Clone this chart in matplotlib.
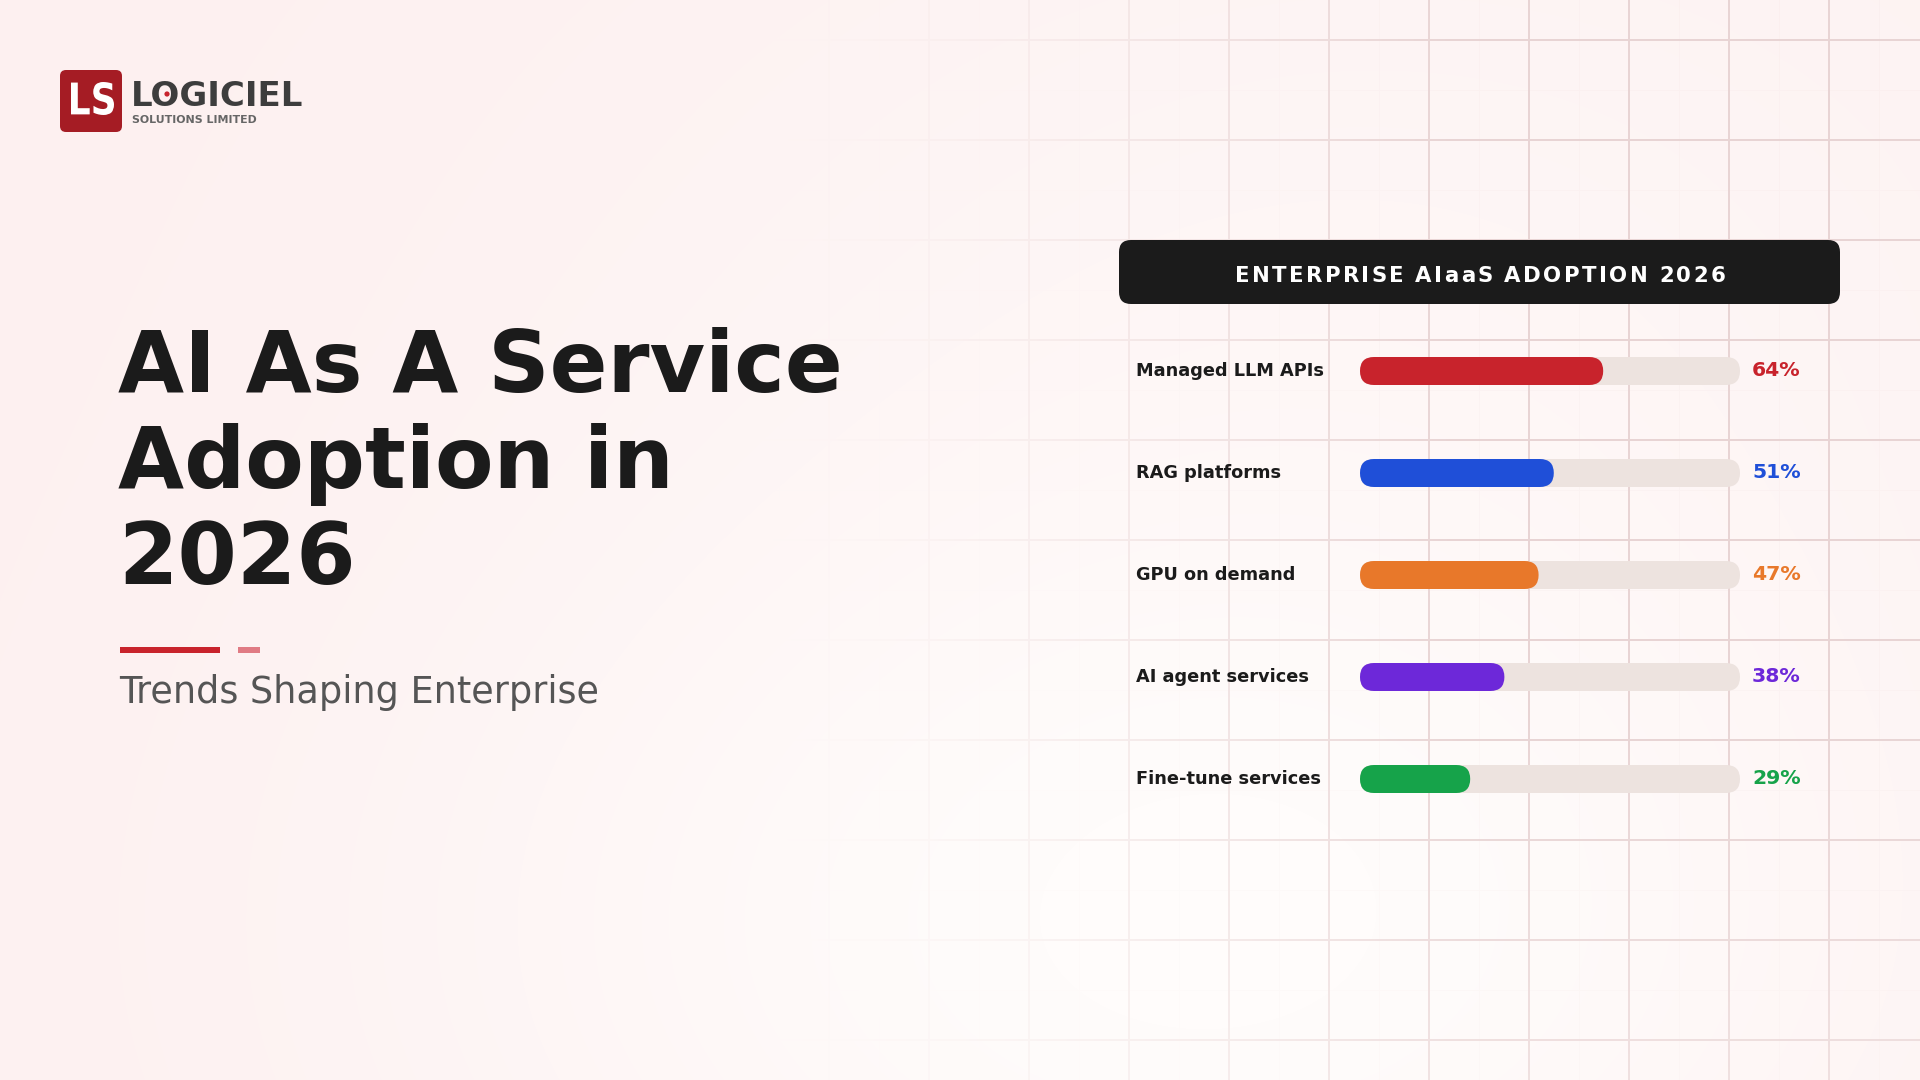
import numpy as np
import matplotlib
matplotlib.use("Agg")
import matplotlib.pyplot as plt
from matplotlib.patches import FancyBboxPatch, Circle, PathPatch
from matplotlib.textpath import TextPath
from matplotlib.font_manager import FontProperties
from matplotlib.transforms import Affine2D

# data
categories = ["Managed LLM APIs", "RAG platforms", "GPU on demand",
              "AI agent services", "Fine-tune services"]
values = [64, 51, 47, 38, 29]
colors = ["#c8232c", "#1f4fd8", "#e8782a", "#6d28d9", "#16a34a"]
value_labels = [f"{v}%" for v in values]

title_lines = ["AI As A Service", "Adoption in", "2026"]
subtitle = "Trends Shaping Enterprise"
panel_title = "ENTERPRISE AIaaS ADOPTION 2026"

W, H = 1920, 1080
fig = plt.figure(figsize=(19.2, 10.8), dpi=100)

# background
yy, xx = np.mgrid[0:H, 0:W]
base = np.array([253, 240, 240]) / 255.0
light = np.array([255, 252, 251]) / 255.0
glow = np.exp(-(((xx - 1200) / 800.0) ** 2 + ((yy - 950) / 500.0) ** 2))
glow2 = np.exp(-(((xx - 1400) / 900.0) ** 2 + ((yy - 200) / 500.0) ** 2)) * 0.4
w = np.clip(glow + glow2, 0, 1)[..., None]
bg = base * (1 - w) + light * w

# grid overlay with fading mask
grid_a = np.zeros((H, W))
for x in range(29, W, 100):
    grid_a[:, x - 1:x + 1] = 1.0
for y in range(40, H, 100):
    grid_a[y - 1:y + 1, :] = 1.0
for x in range(79, W, 100):
    grid_a[:, x] = np.maximum(grid_a[:, x], 0.12)
for y in range(90, H, 100):
    grid_a[y, :] = np.maximum(grid_a[y, :], 0.12)
mask = np.clip((xx - 760) / 700.0, 0, 1) ** 1.4
mask = mask * (1 - 0.35 * np.clip((yy - 700) / 380.0, 0, 1))
line_col = np.array([232, 212, 212]) / 255.0
a = (grid_a * mask)[..., None]
img = bg * (1 - a) + line_col * a

ax = fig.add_axes([0, 0, 1, 1])
ax.imshow(img, extent=[0, W, H, 0], aspect="auto", zorder=0)
ax.set_xlim(0, W)
ax.set_ylim(H, 0)
ax.axis("off")

# logo
ax.add_patch(FancyBboxPatch((60, 70), 62, 62, boxstyle="round,pad=0,rounding_size=6",
                            fc="#a51c24", ec="none", zorder=3))
tp = TextPath((0, 0), "LS", size=1, prop=FontProperties(family="DejaVu Sans", weight="bold"))
ext = tp.get_extents()
sx = 43 / ext.width
sy = 33 / ext.height
tr = Affine2D().translate(-ext.x0, -ext.y0).scale(sx, -sy).translate(71, 115)
ax.add_patch(PathPatch(tr.transform_path(tp), fc="white", ec="none", zorder=4))
ax.text(131, 106, "LOGICIEL", fontsize=24.5, fontweight="bold", color="#3d3d3d",
        ha="left", va="baseline", zorder=4)
ax.add_patch(Circle((167, 94), 2.6, fc="#c8232c", ec="none", zorder=5))
ax.text(132, 123, "SOLUTIONS LIMITED", fontsize=7.9, fontweight="bold", color="#666666",
        ha="left", va="baseline", zorder=4)

# title block
for i, line in enumerate(title_lines):
    ax.text(118, 392 + i * 96, line, fontsize=61.5, fontweight="bold", color="#1b1b1b",
            ha="left", va="baseline", zorder=4)
ax.add_patch(plt.Rectangle((120, 647), 100, 6, fc="#c8232c", ec="none", zorder=4))
ax.add_patch(plt.Rectangle((238, 647), 22, 6, fc="#e07b84", ec="none", zorder=4))
ax.text(119, 703, subtitle, fontsize=26.4, color="#555555", ha="left", va="baseline", zorder=4)

# panel header
ax.add_patch(FancyBboxPatch((1119, 240), 721, 64, boxstyle="round,pad=0,rounding_size=12",
                            fc="#1b1b1b", ec="none", zorder=3))
renderer = fig.canvas.get_renderer()
spacing = 2.4
chars = []
total = 0
for ch in panel_title:
    t = ax.text(0, 0, ch, fontsize=15.3, fontweight="bold", color="white",
                ha="left", va="center", zorder=4)
    wpx = t.get_window_extent(renderer).width if ch != " " else 6.5
    chars.append((t, wpx))
    total += wpx + spacing
total -= spacing
cx = 1480 - total / 2
for t, wpx in chars:
    t.set_position((cx, 276))
    cx += wpx + spacing

# bars
row_y = [371 + i * 102 for i in range(len(categories))]
x0, x1 = 1360, 1740
bar_h = 28
scale = (x1 - x0) / 100.0
for yc, cat, v, c, lab in zip(row_y, categories, values, colors, value_labels):
    ax.add_patch(FancyBboxPatch((x0, yc - bar_h / 2), x1 - x0, bar_h,
                                boxstyle=f"round,pad=0,rounding_size={bar_h / 2}",
                                fc="#ede3df", ec="none", zorder=3))
    ax.add_patch(FancyBboxPatch((x0, yc - bar_h / 2), v * scale, bar_h,
                                boxstyle=f"round,pad=0,rounding_size={bar_h / 2}",
                                fc=c, ec="none", zorder=4))
    ax.text(1136, yc, cat, fontsize=12.8, fontweight="bold", color="#1b1b1b",
            ha="left", va="center", zorder=4)
    ax.text(1752, yc, lab, fontsize=14.7, fontweight="bold", color=c,
            ha="left", va="center", zorder=4)

fig.savefig("out.png", dpi=100)
